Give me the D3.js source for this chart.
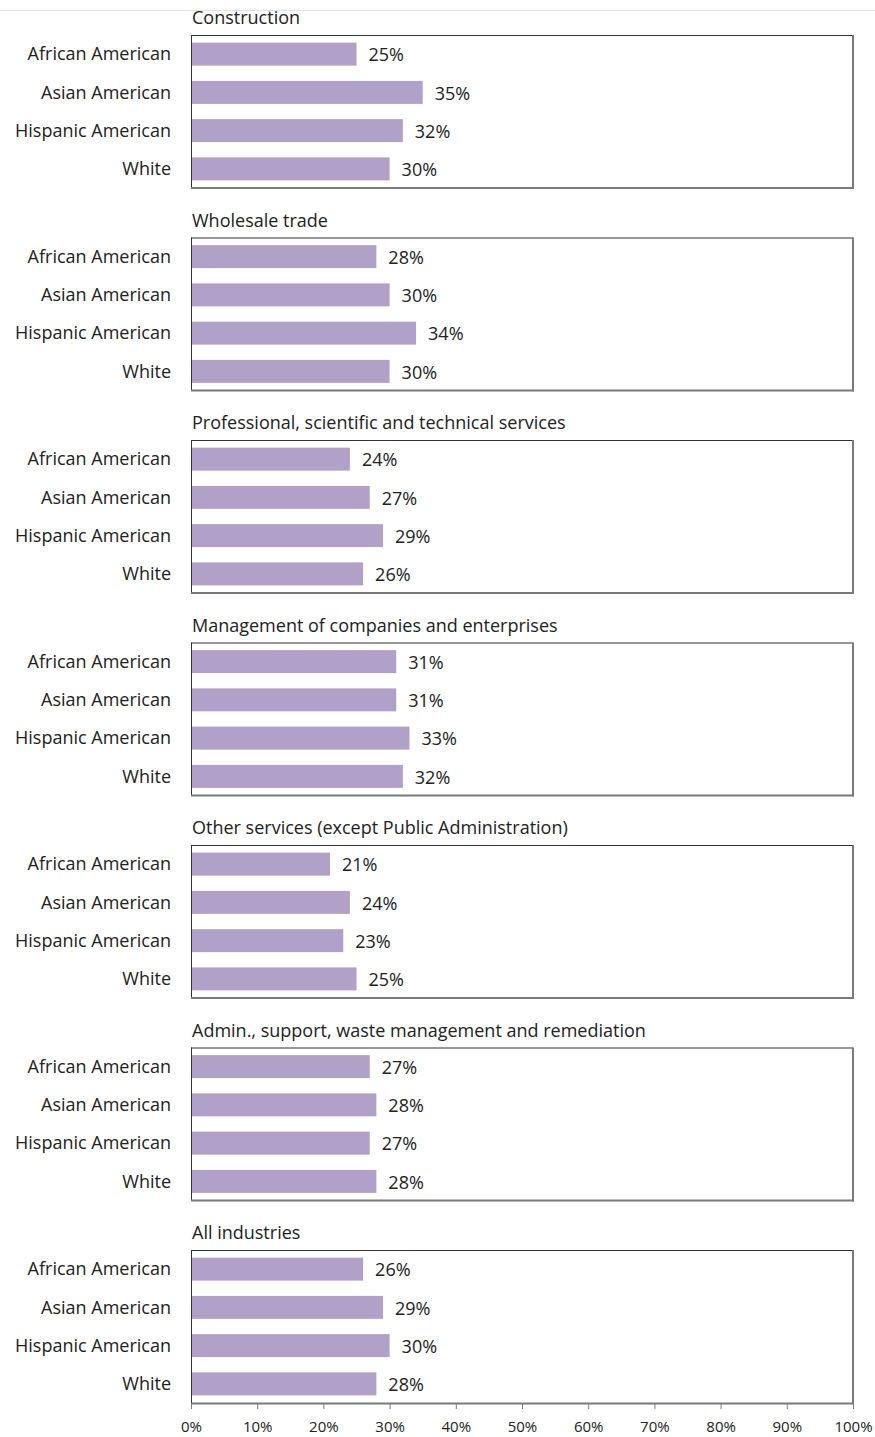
<!DOCTYPE html>
<html>
<head>
<meta charset="utf-8">
<script src="https://cdn.jsdelivr.net/npm/d3@7"></script>
<style>
  body { margin: 0; background: #fff; }
  text { font-family: "Open Sans", sans-serif; fill: #222; }
</style>
</head>
<body>
<div id="chart"></div>
<script>
var industries = [
  "Construction",
  "Wholesale trade",
  "Professional, scientific and technical services",
  "Management of companies and enterprises",
  "Other services (except Public Administration)",
  "Admin., support, waste management and remediation",
  "All industries",
];
var groups = ["African American", "Asian American", "Hispanic American", "White"];
var construction = [25, 35, 32, 30];
var wholesale = [28, 30, 34, 30];
var professional = [24, 27, 29, 26];
var management = [31, 31, 33, 32];
var otherServices = [21, 24, 23, 25];
var admin = [27, 28, 27, 28];
var allIndustries = [26, 29, 30, 28];
var xTicks = [0, 10, 20, 30, 40, 50, 60, 70, 80, 90, 100];

var series = [construction, wholesale, professional, management, otherServices, admin, allIndustries];

var width = 875, height = 1437;
var left = 191, right = 853;
var firstTop = 35, step = 202.5, panelH = 153;
var fontSize = "18px";

var svg = d3
  .select("#chart")
  .append("svg")
  .attr("width", width)
  .attr("height", height);

// faint line at the very top
svg
  .append("line")
  .attr("x1", 0)
  .attr("x2", width)
  .attr("y1", 10.5)
  .attr("y2", 10.5)
  .attr("stroke", "#e2e2e2");

var x = d3.scaleLinear().domain([0, 100]).range([left, right]);
var y = d3.scaleBand().domain(groups).range([0, panelH]).paddingInner(0.4).paddingOuter(0.2);

industries.forEach(function (name, i) {
  var top = firstTop + i * step;
  var g = svg.append("g").attr("transform", "translate(0," + top + ")");
  var vals = series[i];
  var last = i == industries.length - 1;

  g.append("text")
    .attr("x", left + 1)
    .attr("y", -11)
    .style("font-size", fontSize)
    .text(name);

  // frame: dark top/left, grey right/bottom
  g.append("line")
    .attr("x1", left).attr("x2", right)
    .attr("y1", 0.5).attr("y2", 0.5)
    .attr("stroke", "#333");
  g.append("line")
    .attr("x1", left + 0.5).attr("x2", left + 0.5)
    .attr("y1", 0).attr("y2", panelH)
    .attr("stroke", "#333");
  g.append("line")
    .attr("x1", right).attr("x2", right)
    .attr("y1", 0).attr("y2", panelH + 1)
    .attr("stroke", "#7a7a7a").attr("stroke-width", 2);
  if (!last) {
    g.append("line")
      .attr("x1", left).attr("x2", right + 1)
      .attr("y1", panelH).attr("y2", panelH)
      .attr("stroke", "#7a7a7a").attr("stroke-width", 2);
  }

  g.selectAll(".bar")
    .data(groups)
    .enter()
    .append("rect")
    .attr("class", "bar")
    .attr("x", x(0) + 1)
    .attr("y", function (d) { return y(d); })
    .attr("width", function (d, j) { return x(vals[j]) - x(0) - 1; })
    .attr("height", y.bandwidth())
    .attr("fill", "#b1a0c7");

  g.selectAll(".val")
    .data(groups)
    .enter()
    .append("text")
    .attr("class", "val")
    .attr("x", function (d, j) { return x(vals[j]) + 12; })
    .attr("y", function (d) { return y(d) + y.bandwidth() / 2 + 1; })
    .attr("dy", "0.35em")
    .style("font-size", fontSize)
    .text(function (d, j) { return vals[j] + "%"; });

  g.selectAll(".cat")
    .data(groups)
    .enter()
    .append("text")
    .attr("class", "cat")
    .attr("x", 171)
    .attr("y", function (d) { return y(d) + y.bandwidth() / 2; })
    .attr("dy", "0.35em")
    .attr("text-anchor", "end")
    .style("font-size", fontSize)
    .text(function (d) { return d; });

  if (last) {
    var axis = g
      .append("g")
      .attr("transform", "translate(0," + panelH + ")")
      .call(
        d3.axisBottom(x)
          .tickValues(xTicks)
          .tickSize(6)
          .tickSizeOuter(0)
          .tickPadding(12)
          .tickFormat(function (d) { return d + "%"; })
      );
    axis.select(".domain").attr("stroke", "#7a7a7a").attr("stroke-width", 2);
    axis.selectAll(".tick line").attr("stroke", "#7a7a7a");
    axis.selectAll("text")
      .style("font-family", "'Open Sans', sans-serif")
      .style("font-size", "15px")
      .style("fill", "#222");
  }
});
</script>
</body>
</html>
